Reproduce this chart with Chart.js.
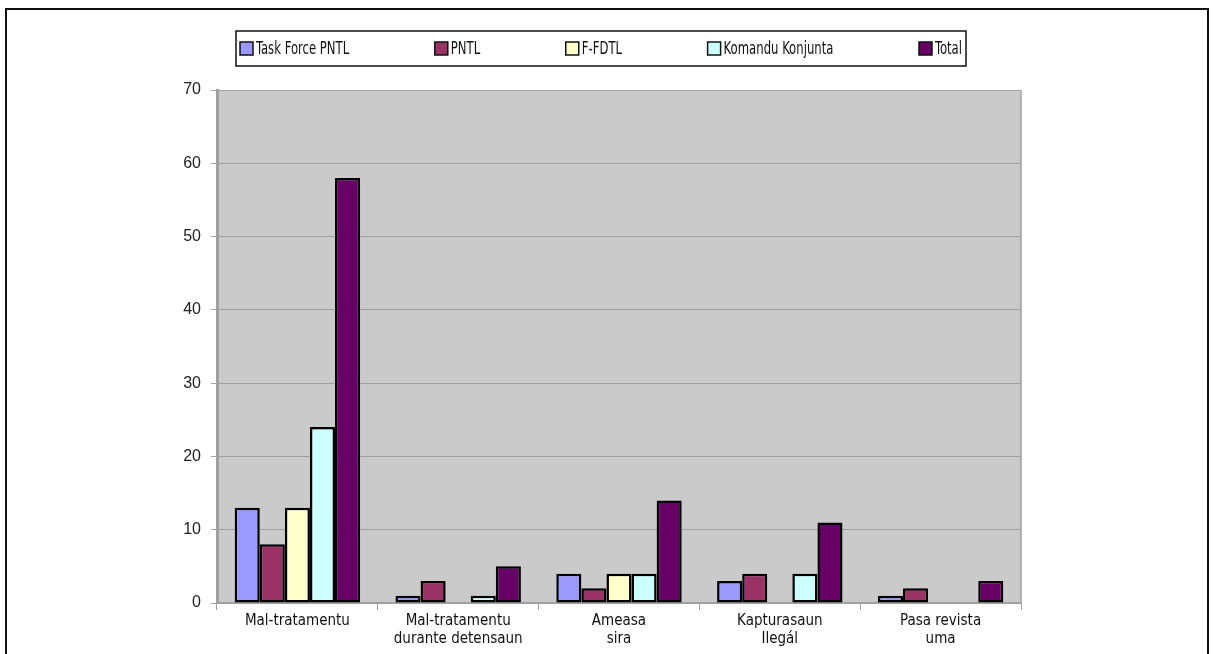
<!DOCTYPE html>
<html>
<head>
<meta charset="utf-8">
<script src="https://cdn.jsdelivr.net/npm/chart.js@4/dist/chart.umd.min.js"></script>
<style>
  html, body { margin: 0; padding: 0; background: #fff; overflow: hidden; }
  #wrap { position: absolute; left: 0; top: 0; width: 1213px; height: 654px; }
  #frame { position: absolute; left: 5px; top: 8px; width: 1200px; height: 700px;
           border: 2px solid #111; pointer-events: none; }
</style>
</head>
<body>
<div id="wrap"><canvas id="myChart" width="1213" height="654"></canvas></div>
<div id="frame"></div>
<script>
const categories = [
    ['Mal-tratamentu'],
    ['Mal-tratamentu', 'durante detensaun'],
    ['Ameasa', 'sira'],
    ['Kapturasaun', 'Ilegál'],
    ['Pasa revista', 'uma']
];
const seriesNames = ['Task Force PNTL', 'PNTL', 'F-FDTL', 'Komandu Konjunta', 'Total'];
const taskForcePntl = [13, 1, 4, 3, 1];
const pntl = [8, 3, 2, 4, 2];
const fFdtl = [13, 0, 4, 0, 0];
const komanduKonjunta = [24, 1, 4, 4, 0];
const total = [58, 5, 14, 11, 3];
const yTicks = [0, 10, 20, 30, 40, 50, 60, 70];

const seriesColors = ['#9999FF', '#993366', '#FFFFCC', '#CCFFFF', '#660066'];
const narrowFont = '"Liberation Sans Narrow", "DejaVu Sans Condensed", "Liberation Sans", sans-serif';

const seriesValues = [taskForcePntl, pntl, fFdtl, komanduKonjunta, total];
const datasets = seriesNames.map((name, i) => ({
    label: name,
    data: seriesValues[i],
    backgroundColor: seriesColors[i],
    borderColor: '#000',
    borderWidth: 2.5,
    borderSkipped: false,
    categoryPercentage: 0.78,
    barPercentage: 1.0
}));

// plot area background + right border
const plotBg = {
    id: 'plotBg',
    beforeDraw(chart) {
        const a = chart.chartArea, c = chart.ctx;
        c.save();
        c.fillStyle = '#CACACA';
        c.fillRect(a.left, a.top, a.right - a.left, a.bottom - a.top);
        c.strokeStyle = '#a0a0a0';
        c.lineWidth = 1.5;
        c.beginPath();
        c.moveTo(a.right, a.top);
        c.lineTo(a.right, a.bottom);
        c.stroke();
        c.restore();
    }
};

// boxed legend like the Excel one, text squeezed to look narrow
const boxLegend = {
    id: 'boxLegend',
    afterDraw(chart, args, opts) {
        const c = chart.ctx;
        c.save();
        c.font = opts.fontSize + 'px ' + narrowFont;
        const items = chart.data.datasets.map(ds => ({
            label: ds.label,
            color: ds.backgroundColor,
            w: opts.box + 3 + c.measureText(ds.label).width * opts.squeeze
        }));
        const used = items.reduce((s, it) => s + it.w, 0);
        const gap = (opts.width - 8 - used) / (items.length - 1);
        c.strokeStyle = '#111';
        c.lineWidth = 1.5;
        c.strokeRect(opts.x, opts.y, opts.width, opts.height);
        let x = opts.x + 4;
        const cy = opts.y + opts.height / 2;
        items.forEach(it => {
            c.fillStyle = it.color;
            c.fillRect(x, cy - opts.box / 2, opts.box, opts.box);
            c.strokeStyle = '#111';
            c.lineWidth = 1.5;
            c.strokeRect(x, cy - opts.box / 2, opts.box, opts.box);
            c.save();
            c.translate(x + opts.box + 3, cy + 1);
            c.scale(opts.squeeze, 1);
            c.fillStyle = '#111';
            c.textBaseline = 'middle';
            c.fillText(it.label, 0, 0);
            c.restore();
            x += it.w + gap;
        });
        c.restore();
    }
};

var ctx = document.getElementById('myChart').getContext('2d');
const myChart = new Chart(ctx, {
    type: 'bar',
    data: {
        labels: categories,
        datasets: datasets
    },
    options: {
        responsive: false,
        animation: false,
        layout: { padding: { top: 90, right: 192, bottom: 0, left: 0 } },
        plugins: {
            legend: { display: false },
            tooltip: { enabled: false },
            boxLegend: { x: 236, y: 31, width: 730, height: 35, box: 13, fontSize: 18, squeeze: 0.72 }
        },
        scales: {
            x: {
                grid: { offset: true, drawOnChartArea: false, color: '#a0a0a0', tickLength: 7 },
                border: { color: '#a0a0a0', width: 1.5 },
                ticks: { color: '#111', font: { family: narrowFont, size: 15, lineHeight: 1.2 }, padding: 2, maxRotation: 0 },
                afterFit(scale) { scale.height = 51; }
            },
            y: {
                min: 0,
                max: 70,
                afterBuildTicks(scale) { scale.ticks = yTicks.map(v => ({ value: v })); },
                grid: { color: '#a0a0a0', lineWidth: 1, tickLength: 6 },
                border: { color: '#a0a0a0', width: 3 },
                ticks: { color: '#222', font: { family: '"Liberation Sans", Arial, sans-serif', size: 16 }, padding: 10 },
                afterFit(scale) { scale.width = 217; }
            }
        }
    },
    plugins: [plotBg, boxLegend]
});
</script>
</body>
</html>
